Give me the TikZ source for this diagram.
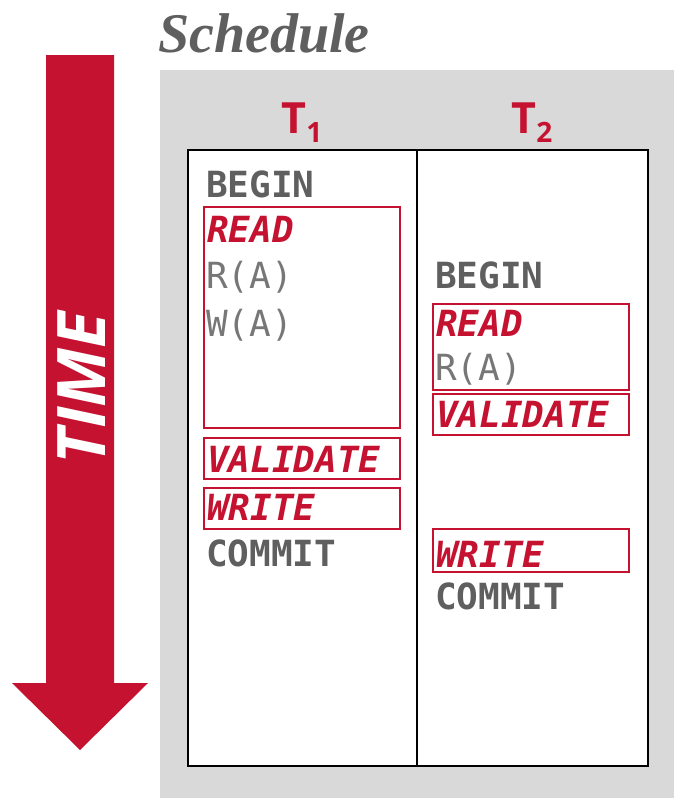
\documentclass[tikz,border=0pt]{standalone}
\usepackage{fontspec}
\setmainfont{Liberation Serif}
\newfontfamily\monof{DejaVu Sans Mono}
\newfontfamily\sansf{Open Sans}
\definecolor{cmured}{HTML}{C41230}
\definecolor{txtgray}{HTML}{5F5F5F}
\definecolor{panelgray}{HTML}{D9D9D9}
\tikzset{
  mono/.style={anchor=base west, inner sep=0pt, font=\monof\fontsize{36}{36}\selectfont},
  opname/.style={mono, text=txtgray, font=\monof\bfseries\fontsize{36}{36}\selectfont},
  opdata/.style={mono, text=txtgray!85},
  phase/.style={mono, text=cmured, font=\monof\bfseries\itshape\fontsize{36}{36}\selectfont},
  phasebox/.style={draw=cmured, line width=1.6pt},
  txhead/.style={inner sep=0pt, text=cmured, font=\sansf\bfseries\fontsize{43}{43}\selectfont}
}
\begin{document}
\begin{tikzpicture}[x=1pt,y=-1pt]
\useasboundingbox (0,0) rectangle (674,798);
\fill[white] (0,0) rectangle (674,798);
% title
\node[anchor=base west, inner sep=0pt, text=txtgray, font=\bfseries\itshape\fontsize{56}{56}\selectfont] (title) at (158,52) {Schedule};
% time arrow
\fill[cmured] (46,55) -- (114,55) -- (114,683) -- (148,683) -- (80,750) -- (12,683) -- (46,683) -- cycle;
\node[rotate=90, text=white, inner sep=0pt, font=\sansf\bfseries\itshape\fontsize{67}{67}\selectfont] (time) at (82,388) {TIME};
% panel
\fill[panelgray] (160,70) rectangle (674,798);
\draw[fill=white, line width=1.5pt] (188,150) rectangle (648,766);
\coordinate (dtop) at (417,150);
\coordinate (dbot) at (417,766);
\draw[line width=1.5pt] (dtop) -- (dbot);
% headers
\node[txhead, anchor=base] (t1) at (302,133) {T\raisebox{-9pt}{\fontsize{28}{28}\selectfont 1}};
\node[txhead, anchor=base] (t2) at (532,133) {T\raisebox{-9pt}{\fontsize{28}{28}\selectfont 2}};
% T1 column
\node[opname] (b1) at (206,197) {BEGIN};
\draw[phasebox] (204,207) rectangle (400,428);
\node[phase] (r1) at (207,242) {READ};
\node[opdata] (ra1) at (206,288) {R(A)};
\node[opdata] (wa1) at (206,336) {W(A)};
\draw[phasebox] (204,438) rectangle (400,479);
\node[phase] (v1) at (207,472) {VALIDATE};
\draw[phasebox] (204,488) rectangle (400,529);
\node[phase] (w1) at (207,520) {WRITE};
\node[opname] (c1) at (206,566) {COMMIT};
% T2 column
\node[opname] (b2) at (435,288) {BEGIN};
\draw[phasebox] (433,304) rectangle (629,390);
\node[phase] (r2) at (436,336) {READ};
\node[opdata] (ra2) at (435,380) {R(A)};
\draw[phasebox] (433,394) rectangle (629,435);
\node[phase] (v2) at (436,427) {VALIDATE};
\draw[phasebox] (433,529) rectangle (629,572);
\node[phase] (w2) at (436,567) {WRITE};
\node[opname] (c2) at (435,609) {COMMIT};
\end{tikzpicture}
\end{document}
